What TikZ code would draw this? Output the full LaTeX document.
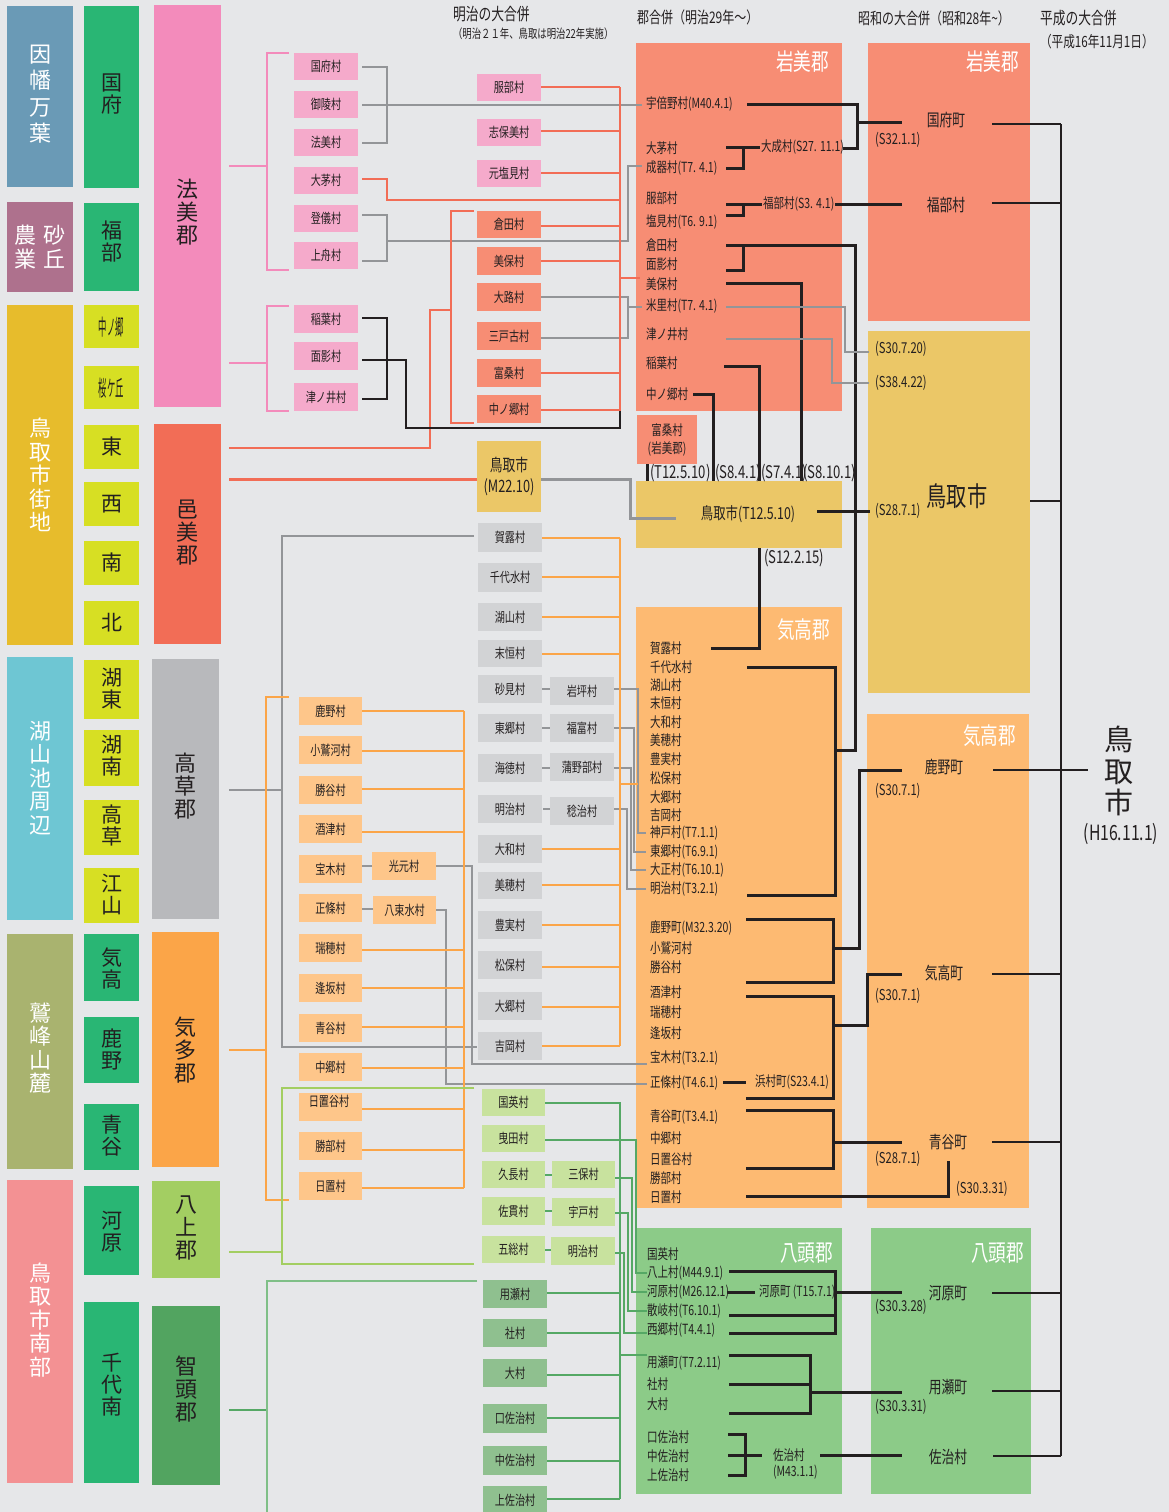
\documentclass[tikz,border=0pt]{standalone}
\usepackage{fontspec}
\usepackage{graphicx}
\newfontfamily\jp{Noto Sans CJK JP}
\newfontfamily\jpn[FakeStretch=0.75]{Noto Sans CJK JP}
\definecolor{bg}{HTML}{E6E7E9}
\definecolor{txt}{HTML}{231F20}
\definecolor{cblue}{HTML}{6A9AB6}
\definecolor{cmauve}{HTML}{AE718D}
\definecolor{cgold}{HTML}{E7BC2C}
\definecolor{ccyan}{HTML}{6EC6D3}
\definecolor{colive}{HTML}{A9B36F}
\definecolor{crose}{HTML}{F39193}
\definecolor{cgreen}{HTML}{29B674}
\definecolor{cyg}{HTML}{D7DF23}
\definecolor{gpink}{HTML}{F38BBB}
\definecolor{gred}{HTML}{F26D56}
\definecolor{ggray}{HTML}{B8B9BC}
\definecolor{gorange}{HTML}{FBA548}
\definecolor{glgreen}{HTML}{A3CE62}
\definecolor{gdgreen}{HTML}{52A460}
\definecolor{vpink}{HTML}{F5AACB}
\definecolor{vsalmon}{HTML}{F78D74}
\definecolor{vgold}{HTML}{EBC767}
\definecolor{vgray}{HTML}{D2D3D5}
\definecolor{vorange}{HTML}{FEC68A}
\definecolor{vlgreen}{HTML}{C8E29E}
\definecolor{vdgreen}{HTML}{8FC08F}
\definecolor{borange}{HTML}{FDBA72}
\definecolor{bgreen}{HTML}{8CCB88}
\definecolor{lgray}{HTML}{939598}
\definecolor{lgreen}{HTML}{55A865}
\definecolor{lgreenb}{HTML}{7FBF87}
\newcommand\fvil{\jpn\fontsize{13.5}{14}\selectfont}
\newcommand\fin{\jpn\fontsize{14}{15}\selectfont}
\newcommand\fdt{\jpn\fontsize{15}{16}\selectfont}
\newcommand\fdtb{\jpn\fontsize{17.5}{18}\selectfont}
\newcommand\frt{\jpn\fontsize{17}{18}\selectfont}
\newcommand\fttl{\jpn\fontsize{23.5}{24}\selectfont}
\newcommand\fhd{\jpn\fontsize{17}{18}\selectfont}
\newcommand\fsub{\jpn\fontsize{12.5}{13}\selectfont}
% box with text: style, x1, y1, x2, y2, name, text
\newcommand\BX[7]{\node[bx,#1,minimum width={#4pt-#2pt},minimum height={#5pt-#3pt}] (#6) at ({(#2+#4)/2},{(#3+#5)/2}) {#7};}
% box plus separate text: style, x1,y1,x2,y2,name,textstyle,cy,text
\newcommand\BT[9]{\node[bx,#1,minimum width={#4pt-#2pt},minimum height={#5pt-#3pt}] (#6) at ({(#2+#4)/2},{(#3+#5)/2}) {};\node[#7] (#6t) at ({(#2+#4)/2},#8) {#9};}
\begin{document}
\begin{tikzpicture}[x=1pt,y=-1pt,
  bx/.style={rectangle,inner sep=0pt,outer sep=0pt,align=center,text=txt},
  vil/.style={bx,font=\fvil,outer xsep=4pt},
  wt/.style={inner sep=0pt,align=center,text=white,font=\jp\fontsize{22}{23.5}\selectfont},
  dk2/.style={inner sep=0pt,align=center,text=txt,font=\jp\fontsize{21}{22}\selectfont},
  dk3/.style={inner sep=0pt,align=center,text=txt,font=\jp\fontsize{22}{23}\selectfont},
  lab/.style={inner sep=0pt,outer sep=0pt,anchor=west,text=txt,font=\fin},
  dtl/.style={inner sep=0pt,outer sep=0pt,anchor=west,text=txt,font=\fdt},
  rtl/.style={inner sep=0pt,outer sep=0pt,text=txt,font=\frt},
  ttl/.style={inner sep=0pt,outer sep=0pt,anchor=east,text=white,font=\fttl},
  hd/.style={inner sep=0pt,outer sep=0pt,anchor=west,text=txt,font=\fhd},
  lp/.style={draw=gpink,line width=1.5pt},
  lr/.style={draw=gred,line width=1.5pt},
  lo/.style={draw=gorange,line width=1.5pt},
  lg/.style={draw=lgray,line width=1.5pt},
  lk/.style={draw=txt,line width=3pt},
  lkr/.style={draw=txt,line width=2.5pt},
  lkt/.style={draw=txt,line width=1.6pt},
  lgr/.style={draw=lgreen,line width=1.5pt},
  llg/.style={draw=glgreen,line width=1.5pt},
]
\fill[bg] (0,0) rectangle (1169,1512);
\useasboundingbox (0,0) rectangle (1169,1512);

% ---------------- column 1 ----------------
\BT{fill=cblue}{7}{6}{73}{187}{r1}{wt,font=\jp\fontsize{22}{26.5}\selectfont}{94}{因\\幡\\万\\葉}
\BT{fill=cmauve}{7}{202}{73}{292}{r2}{wt}{247}{農\hspace{7pt}砂\\業\hspace{7pt}丘}
\BT{fill=cgold}{7}{305}{73}{645}{r3}{wt}{475}{鳥\\取\\市\\街\\地}
\BT{fill=ccyan}{7}{657}{73}{920}{r4}{wt}{778}{湖\\山\\池\\周\\辺}
\BT{fill=colive}{7}{934}{73}{1169}{r5}{wt}{1048}{鷲\\峰\\山\\麓}
\BT{fill=crose}{7}{1180}{73}{1483}{r6}{wt}{1320}{鳥\\取\\市\\南\\部}

% ---------------- column 2 ----------------
\BT{fill=cgreen}{84}{6}{139}{188}{s1}{dk2}{94}{国\\府}
\BT{fill=cgreen}{84}{203}{139}{291}{s2}{dk2}{242}{福\\部}
\BT{fill=cyg}{84}{305}{139}{348}{s3}{dk2,font=\jp\fontsize{22}{22}\selectfont}{327}{\scalebox{0.38}[1]{中ノ郷}}
\BT{fill=cyg}{84}{366}{139}{409}{s4}{dk2,font=\jp\fontsize{22}{22}\selectfont}{388}{\scalebox{0.38}[1]{桜ケ丘}}
\BT{fill=cyg}{84}{425}{139}{469}{s5}{dk2}{447}{東}
\BT{fill=cyg}{84}{482}{139}{526}{s6}{dk2}{504}{西}
\BT{fill=cyg}{84}{541}{139}{585}{s7}{dk2}{563}{南}
\BT{fill=cyg}{84}{601}{139}{645}{s8}{dk2}{623}{北}
\BT{fill=cyg}{84}{660}{139}{719}{s9}{dk2}{689}{湖\\東}
\BT{fill=cyg}{84}{730}{139}{786}{s10}{dk2}{756}{湖\\南}
\BT{fill=cyg}{84}{800}{139}{855}{s11}{dk2}{825}{高\\草}
\BT{fill=cyg}{84}{868}{139}{923}{s12}{dk2}{895}{江\\山}
\BT{fill=cgreen}{84}{934}{139}{1001}{s13}{dk2}{968}{気\\高}
\BT{fill=cgreen}{84}{1017}{139}{1083}{s14}{dk2}{1049}{鹿\\野}
\BT{fill=cgreen}{84}{1104}{139}{1170}{s15}{dk2}{1136}{青\\谷}
\BT{fill=cgreen}{84}{1186}{139}{1275}{s16}{dk2}{1232}{河\\原}
\BT{fill=cgreen}{84}{1302}{139}{1483}{s17}{dk2}{1385}{千\\代\\南}

% ---------------- column 3 ----------------
\BT{fill=gpink}{154}{5}{221}{407}{g1}{dk3}{212}{法\\美\\郡}
\BT{fill=gred}{154}{424}{221}{644}{g2}{dk3}{533}{邑\\美\\郡}
\BT{fill=ggray}{152}{659}{219}{919}{g3}{dk3}{786}{高\\草\\郡}
\BT{fill=gorange}{152}{932}{219}{1167}{g4}{dk3}{1050}{気\\多\\郡}
\BT{fill=glgreen}{152}{1181}{220}{1278}{g5}{dk3}{1228}{八\\上\\郡}
\BT{fill=gdgreen}{152}{1306}{220}{1485}{g6}{dk3}{1389}{智\\頭\\郡}

% ---------------- big boxes ----------------
\BX{fill=vsalmon}{636}{43}{842}{411}{iwB}{}
\BX{fill=vgold}{636}{481}{842}{548}{ttB}{}
\BX{fill=borange}{636}{607}{842}{1208}{kkB}{}
\BX{fill=bgreen}{636}{1228}{842}{1494}{ytB}{}
\BX{fill=vsalmon}{868}{43}{1030}{321}{iwR}{}
\BX{fill=vgold}{868}{331}{1030}{693}{ttR}{}
\BX{fill=borange}{867}{714}{1029}{1208}{kkR}{}
\BX{fill=bgreen}{871}{1228}{1031}{1494}{ytR}{}

% ---------------- lines ----------------
% 法美郡
\draw[lp] (229,166)--(267,166);
\draw[lp] (289,53)--(267,53)--(267,270)--(289,270);
\draw[lp] (229,363)--(267,363);
\draw[lp] (289,306)--(267,306)--(267,411)--(289,411);
% gray brackets
\draw[lg,line width=2pt] (362,67)--(387,67)--(387,143)--(362,143);
\draw[lg,line width=2pt] (362,105)--(642,105);
\draw[lg,line width=2pt] (362,215)--(387,215)--(387,261)--(362,261);
\draw[lg,line width=2pt] (387,241)--(628,241)--(628,166)--(642,166);
\draw[lg,line width=2pt] (541,297)--(628,297)--(628,338)--(541,338);
\draw[lg,line width=2pt] (628,307)--(642,307);
% red
\draw[lr] (362,179)--(387,179)--(387,200)--(620,200);
\draw[lr] (620,87)--(620,411);
\draw[lr] (541,87)--(620,87);
\draw[lr,line width=2.5pt] (541,131)--(620,131);
\draw[lr,line width=2.5pt] (541,173)--(620,173);
\draw[lr] (541,226)--(620,226);
\draw[lr] (541,261)--(620,261);
\draw[lr] (541,373)--(620,373);
\draw[lr] (541,410)--(620,410);
\draw[lr] (620,278)--(640,278);
\draw[lr] (229,448)--(430,448)--(430,310)--(451,310);
\draw[lr] (474,211)--(451,211)--(451,423)--(474,423);
\draw[lr,line width=3pt] (229,479)--(477,479);
% black bracket 稲葉
\draw[lkt] (362,318)--(387,318)--(387,399)--(362,399);
\draw[lkt] (362,360)--(406,360)--(406,428)--(620,428)--(620,411);
% gray thick 鳥取市
\draw[lg,line width=3pt] (541,479)--(630,479)--(630,518)--(676,518);
% 岩美郡 black
\draw[lk] (747,104)--(857,104)--(857,148)--(843,148);
\draw[lk] (857,122)--(902,122);
\draw[lk] (726,147)--(760,147);
\draw[lk] (743,147)--(743,168)--(726,168);
\draw[lk] (726,204)--(762,204);
\draw[lk] (743,204)--(743,215)--(726,215);
\draw[lk] (835,204)--(902,204);
\draw[lk] (726,245)--(855,245)--(855,750)--(835,750);
\draw[lk] (743,245)--(743,270)--(726,270);
\draw[lk] (726,283)--(801,283)--(801,481);
\draw[lk] (724,366)--(759,366)--(759,481);
\draw[lk] (693,394)--(713,394)--(713,481);
\draw[lk] (647,464)--(647,481);
\draw[lk] (817,511)--(870,511);
\draw[lk] (759,548)--(759,648)--(711,648);
\draw[lg,line width=2.5pt] (726,307)--(845,307)--(845,352)--(869,352);
\draw[lg,line width=2.5pt] (726,339)--(832,339)--(832,383)--(869,383);
% 気高郡 black
\draw[lk] (747,667)--(835,667)--(835,895)--(747,895);
\draw[lk] (746,919)--(833,919)--(833,982)--(746,982);
\draw[lk] (833,948)--(859,948)--(859,770)--(902,770);
\draw[lk] (746,996)--(833,996)--(833,1098)--(746,1098);
\draw[lk] (833,1025)--(867,1025)--(867,974)--(902,974);
\draw[lk] (723,1082)--(746,1082);
\draw[lk] (746,1110)--(833,1110)--(833,1168)--(746,1168);
\draw[lk] (833,1142)--(902,1142);
\draw[lk] (746,1196)--(948,1196)--(948,1161);
% 八頭郡 black
\draw[lk] (729,1271)--(835,1271)--(835,1333)--(729,1333);
\draw[lk] (729,1315)--(835,1315);
\draw[lk] (835,1292)--(902,1292);
\draw[lk] (727,1292)--(755,1292);
\draw[lk] (729,1355)--(810,1355)--(810,1413)--(729,1413);
\draw[lk] (729,1384)--(810,1384);
\draw[lk] (810,1392)--(902,1392);
\draw[lk] (728,1434)--(745,1434)--(745,1475)--(728,1475);
\draw[lk] (728,1455)--(762,1455);
\draw[lk] (820,1455)--(902,1455);
% right side
\draw[lkr] (1061,124)--(1061,1456);
\draw[lkr] (992,124)--(1061,124);
\draw[lkr] (992,203)--(1061,203);
\draw[lkr] (1030,501)--(1061,501);
\draw[lkr] (993,770)--(1088,770);
\draw[lkr] (992,974)--(1061,974);
\draw[lkr] (992,1142)--(1061,1142);
\draw[lkr] (992,1293)--(1061,1293);
\draw[lkr] (992,1391)--(1061,1391);
\draw[lkr] (993,1456)--(1061,1456);
% 高草郡 gray
\draw[lg] (229,790)--(282,790);
\draw[lg] (474,536)--(282,536)--(282,1047)--(477,1047);
\draw[lg] (542,689)--(550,689);
\draw[lg] (542,728)--(550,728);
\draw[lg] (542,768)--(550,768);
\draw[lg] (543,809)--(550,809);
\draw[lg] (613,689)--(638,689)--(638,833)--(646,833);
\draw[lg] (614,728)--(634,728)--(634,852)--(646,852);
\draw[lg] (614,768)--(631,768)--(631,870)--(646,870);
\draw[lg] (614,809)--(627,809)--(627,889)--(646,889);
\draw[lg] (362,866)--(372,866);
\draw[lg] (362,909)--(373,909);
\draw[lg] (436,866)--(472,866)--(472,1064)--(647,1064);
\draw[lg] (436,910)--(446,910)--(446,1084)--(647,1084);
% orange
\foreach \yy in {538,577,617,654,849,885,925,967,1007,1046} {\draw[lo] (542,\yy)--(620,\yy);}
\draw[lo] (620,538)--(620,1046);
\draw[lo] (620,784)--(638,784);
\draw[lo] (229,1050)--(266,1050);
\draw[lo] (289,697)--(266,697)--(266,1200)--(289,1200);
\foreach \yy in {711,751,789,832,950,988,1027,1068,1109,1150,1188} {\draw[lo] (362,\yy)--(464,\yy);}
\draw[lo] (464,711)--(464,1188);
% 八上 light green
\draw[llg,line width=2.5pt] (229,1252)--(282,1252);
\draw[llg] (474,1088)--(282,1088)--(282,1264)--(474,1264);
% green
\draw[lgr] (545,1175)--(552,1175);
\draw[lgr] (545,1211)--(552,1211);
\draw[lgr] (545,1250)--(551,1250);
\draw[lgr] (545,1103)--(620,1103)--(620,1499);
\draw[lgr] (545,1140)--(636,1140)--(636,1273)--(647,1273);
\draw[lgr] (615,1178)--(632,1178)--(632,1292)--(647,1292);
\draw[lgr] (615,1213)--(628,1213)--(628,1311)--(647,1311);
\draw[lgr] (615,1253)--(624,1253)--(624,1333)--(647,1333);
\draw[lgr,line width=2.5pt] (547,1293)--(620,1293);
\foreach \yy in {1333,1375,1418,1461,1499} {\draw[lgr] (547,\yy)--(620,\yy);}
\draw[lgr] (620,1355)--(647,1355);
\draw[lgr,line width=2pt] (229,1410)--(267,1410);
\draw[draw=lgreenb,line width=1.5pt] (477,1281)--(267,1281)--(267,1512);

% ---------------- village boxes ----------------
\BX{vil,fill=vpink}{294}{53}{358}{80}{kokufu}{国府村}
\BX{vil,fill=vpink}{294}{91}{358}{118}{goryo}{御陵村}
\BX{vil,fill=vpink}{294}{129}{358}{156}{horyo}{法美村}
\BX{vil,fill=vpink}{294}{167}{358}{194}{ochi}{大茅村}
\BX{vil,fill=vpink}{294}{205}{358}{232}{togi}{登儀村}
\BX{vil,fill=vpink}{294}{242}{358}{269}{kamifune}{上舟村}
\BX{vil,fill=vpink}{294}{305}{358}{333}{inaba}{稲葉村}
\BX{vil,fill=vpink}{294}{342}{358}{370}{omokage}{面影村}
\BX{vil,fill=vpink}{294}{383}{358}{411}{tsunoi}{津ノ井村}

\BX{vil,fill=vpink}{477}{74}{541}{101}{hattori}{服部村}
\BX{vil,fill=vpink}{477}{119}{541}{146}{shihomi}{志保美村}
\BX{vil,fill=vpink}{477}{160}{541}{187}{motoshiomi}{元塩見村}
\BX{vil,fill=vsalmon}{477}{211}{541}{238}{kurata}{倉田村}
\BX{vil,fill=vsalmon}{477}{247}{541}{275}{miho}{美保村}
\BX{vil,fill=vsalmon}{477}{283}{541}{311}{oji}{大路村}
\BX{vil,fill=vsalmon}{477}{322}{541}{350}{mitoko}{三戸古村}
\BX{vil,fill=vsalmon}{477}{359}{541}{387}{fuso}{富桑村}
\BX{vil,fill=vsalmon}{477}{395}{541}{423}{nakanogo}{中ノ郷村}
\BX{vil,fill=vgold,font=\jpn\fontsize{17}{21}\selectfont}{477}{441}{541}{512}{tottoriM}{鳥取市\\(M22.10)}
\BX{vil,fill=vsalmon,font=\jpn\fontsize{14}{18}\selectfont}{637}{415}{697}{464}{fuso2}{富桑村\\(岩美郡)}

\BX{vil,fill=vgray}{478}{523}{542}{552}{karo}{賀露村}
\BX{vil,fill=vgray}{478}{563}{542}{592}{chiyomi}{千代水村}
\BX{vil,fill=vgray}{478}{603}{542}{631}{koyama}{湖山村}
\BX{vil,fill=vgray}{478}{640}{542}{667}{suetsune}{末恒村}
\BX{vil,fill=vgray}{478}{675}{542}{703}{sunami}{砂見村}
\BX{vil,fill=vgray}{478}{714}{542}{742}{togo}{東郷村}
\BX{vil,fill=vgray}{478}{754}{542}{782}{kaitoku}{海徳村}
\BX{vil,fill=vgray}{478}{795}{542}{823}{meijiA}{明治村}
\BX{vil,fill=vgray}{478}{835}{542}{863}{yamato}{大和村}
\BX{vil,fill=vgray}{478}{872}{542}{899}{mihoT}{美穂村}
\BX{vil,fill=vgray}{478}{911}{542}{939}{toyomi}{豊実村}
\BX{vil,fill=vgray}{478}{951}{542}{979}{matsuho}{松保村}
\BX{vil,fill=vgray}{478}{992}{542}{1020}{ogo}{大郷村}
\BX{vil,fill=vgray}{478}{1032}{542}{1060}{yoshioka}{吉岡村}
\BX{vil,fill=vgray}{550}{677}{614}{705}{iwatsubo}{岩坪村}
\BX{vil,fill=vgray}{550}{714}{614}{742}{fukutomi}{福富村}
\BX{vil,fill=vgray}{550}{753}{614}{781}{kamanobe}{蒲野部村}
\BX{vil,fill=vgray}{550}{797}{614}{825}{minoji}{稔治村}

\BX{vil,fill=vorange}{299}{697}{362}{725}{shikano}{鹿野村}
\BX{vil,fill=vorange}{299}{736}{362}{764}{owashi}{小鷲河村}
\BX{vil,fill=vorange}{299}{776}{362}{804}{katsuya}{勝谷村}
\BX{vil,fill=vorange}{299}{815}{362}{843}{sakenotsu}{酒津村}
\BX{vil,fill=vorange}{299}{855}{362}{883}{hoki}{宝木村}
\BX{vil,fill=vorange}{299}{894}{362}{922}{shojo}{正條村}
\BX{vil,fill=vorange}{299}{934}{362}{962}{mizuho}{瑞穂村}
\BX{vil,fill=vorange}{299}{974}{362}{1002}{osaka}{逢坂村}
\BX{vil,fill=vorange}{299}{1014}{362}{1042}{aoya}{青谷村}
\BX{vil,fill=vorange}{299}{1053}{362}{1081}{nakago}{中郷村}
\BX{vil,fill=vorange}{299}{1093}{362}{1121}{hiokidani}{}
\node[inner sep=0pt,font=\fvil,text=txt] (hiokidanit) at (329,1101) {日置谷村};
\BX{vil,fill=vorange}{299}{1132}{362}{1160}{katsube}{勝部村}
\BX{vil,fill=vorange}{299}{1172}{362}{1200}{hioki}{日置村}
\BX{vil,fill=vorange}{372}{852}{436}{880}{mitsumoto}{光元村}
\BX{vil,fill=vorange}{373}{896}{436}{924}{yatsukami}{八束水村}

\BX{vil,fill=vlgreen}{482}{1089}{545}{1116}{kokuei}{国英村}
\BX{vil,fill=vlgreen}{482}{1125}{545}{1152}{hikita}{曳田村}
\BX{vil,fill=vlgreen}{482}{1161}{545}{1188}{kunaga}{久長村}
\BX{vil,fill=vlgreen}{482}{1197}{545}{1225}{sanuki}{佐貫村}
\BX{vil,fill=vlgreen}{482}{1236}{545}{1263}{fusa}{五総村}
\BX{vil,fill=vlgreen}{552}{1161}{615}{1188}{mihoY}{三保村}
\BX{vil,fill=vlgreen}{552}{1198}{615}{1226}{udo}{宇戸村}
\BX{vil,fill=vlgreen}{551}{1237}{615}{1265}{meijiY}{明治村}

\BX{vil,fill=vdgreen}{483}{1280}{547}{1308}{mochigase}{用瀬村}
\BX{vil,fill=vdgreen}{483}{1319}{547}{1347}{yashiro}{社村}
\BX{vil,fill=vdgreen}{483}{1359}{547}{1387}{omura}{大村}
\BX{vil,fill=vdgreen}{483}{1404}{547}{1433}{kuchisaji}{口佐治村}
\BX{vil,fill=vdgreen}{483}{1446}{547}{1475}{nakasaji}{中佐治村}
\BX{vil,fill=vdgreen}{483}{1486}{547}{1514}{kamisaji}{上佐治村}

% ---------------- headers ----------------
\node[hd] (h1) at (453,14) {明治の大合併};
\node[hd,font=\fsub] (h1b) at (453,34) {（明治２１年、鳥取は明治22年実施）};
\node[hd,font=\jpn\fontsize{16}{17}\selectfont] (h2) at (637,17) {郡合併（明治29年～）};
\node[hd,font=\jpn\fontsize{16}{17}\selectfont] (h3) at (858,18) {昭和の大合併（昭和28年\textasciitilde）};
\node[hd] (h4) at (1040,18) {平成の大合併};
\node[hd,font=\jpn\fontsize{15.5}{16}\selectfont] (h4b) at (1040,42) {（平成16年11月1日）};

% ---------------- 岩美郡 labels ----------------
\node[ttl] (iwT) at (829,62) {岩美郡};
\node[lab] (iw1) at (646,104) {宇倍野村(M40.4.1)};
\node[lab] (iw2) at (646,148) {大茅村};
\node[lab] (iw3) at (646,168) {成器村(T7. 4.1)};
\node[lab] (iw4) at (646,198) {服部村};
\node[lab] (iw5) at (646,222) {塩見村(T6. 9.1)};
\node[lab] (iw6) at (646,245) {倉田村};
\node[lab] (iw7) at (646,264) {面影村};
\node[lab] (iw8) at (646,284) {美保村};
\node[lab] (iw9) at (646,306) {米里村(T7. 4.1)};
\node[lab] (iw10) at (646,334) {津ノ井村};
\node[lab] (iw11) at (646,363) {稲葉村};
\node[lab] (iw12) at (646,394) {中ノ郷村};
\node[lab] (taisei) at (761,147) {大成村(S27. 11.1)};
\node[lab] (fukubeS3) at (763,204) {福部村(S3. 4.1)};
\node[dtl,font=\fdtb] (dA) at (650,473) {(T12.5.10)};
\node[dtl,font=\fdtb] (dB) at (715,473) {(S8.4.1)};
\node[dtl,font=\fdtb] (dC) at (761,473) {(S7.4.1)};
\node[dtl,font=\fdtb] (dD) at (803,473) {(S8.10.1)};
\node[rtl,font=\jpn\fontsize{16.5}{17}\selectfont] (tt12) at (748,514) {鳥取市(T12.5.10)};
\node[dtl,font=\fdtb] (dE) at (764,558) {(S12.2.15)};

% ---------------- 気高郡 labels ----------------
\node[ttl] (kkT) at (830,630) {気高郡};
\node[lab] (k1) at (650,648) {賀露村};
\node[lab] (k2) at (650,667) {千代水村};
\node[lab] (k3) at (650,685) {湖山村};
\node[lab] (k4) at (650,703) {末恒村};
\node[lab] (k5) at (650,722) {大和村};
\node[lab] (k6) at (650,740) {美穂村};
\node[lab] (k7) at (650,759) {豊実村};
\node[lab] (k8) at (650,778) {松保村};
\node[lab] (k9) at (650,797) {大郷村};
\node[lab] (k10) at (650,815) {吉岡村};
\node[lab] (k11) at (650,833) {神戸村(T7.1.1)};
\node[lab] (k12) at (650,852) {東郷村(T6.9.1)};
\node[lab] (k13) at (650,870) {大正村(T6.10.1)};
\node[lab] (k14) at (650,889) {明治村(T3.2.1)};
\node[lab] (k15) at (650,928) {鹿野町(M32.3.20)};
\node[lab] (k16) at (650,948) {小鷲河村};
\node[lab] (k17) at (650,967) {勝谷村};
\node[lab] (k18) at (650,992) {酒津村};
\node[lab] (k19) at (650,1012) {瑞穂村};
\node[lab] (k20) at (650,1033) {逢坂村};
\node[lab] (k21) at (650,1058) {宝木村(T3.2.1)};
\node[lab] (k22) at (650,1083) {正條村(T4.6.1)};
\node[lab] (k23) at (755,1082) {浜村町(S23.4.1)};
\node[lab] (k24) at (650,1117) {青谷町(T3.4.1)};
\node[lab] (k25) at (650,1138) {中郷村};
\node[lab] (k26) at (650,1159) {日置谷村};
\node[lab] (k27) at (650,1178) {勝部村};
\node[lab] (k28) at (650,1197) {日置村};

% ---------------- 八頭郡 labels ----------------
\node[ttl] (ytT) at (833,1253) {八頭郡};
\node[lab] (y1) at (647,1254) {国英村};
\node[lab] (y2) at (647,1273) {八上村(M44.9.1)};
\node[lab] (y3) at (647,1292) {河原村(M26.12.1)};
\node[lab] (y4) at (647,1311) {散岐村(T6.10.1)};
\node[lab] (y5) at (647,1330) {西郷村(T4.4.1)};
\node[lab] (y6) at (647,1363) {用瀬町(T7.2.11)};
\node[lab] (y7) at (647,1384) {社村};
\node[lab] (y8) at (647,1404) {大村};
\node[lab] (y9) at (647,1437) {口佐治村};
\node[lab] (y10) at (647,1456) {中佐治村};
\node[lab] (y11) at (647,1475) {上佐治村};
\node[lab] (y12) at (759,1292) {河原町\,(T15.7.1)};
\node[lab] (y13) at (773,1455) {佐治村};
\node[lab] (y14) at (773,1472) {(M43.1.1)};

% ---------------- 昭和 labels ----------------
\node[ttl] (iwRT) at (1019,62) {岩美郡};
\node[rtl] (kokufuT) at (946,120) {国府町};
\node[dtl] (e1) at (875,140) {(S32.1.1)};
\node[rtl] (fukubeT) at (946,205) {福部村};
\node[dtl] (e2) at (875,349) {(S30.7.20)};
\node[dtl] (e3) at (875,383) {(S38.4.22)};
\node[rtl,font=\jpn\fontsize{27}{28}\selectfont] (tottoriS) at (957,496) {鳥取市};
\node[dtl] (e4) at (875,511) {(S28.7.1)};
\node[ttl] (kkRT) at (1016,736) {気高郡};
\node[rtl] (shikanoT) at (944,767) {鹿野町};
\node[dtl] (e5) at (875,791) {(S30.7.1)};
\node[rtl] (ketakaT) at (944,973) {気高町};
\node[dtl] (e6) at (875,996) {(S30.7.1)};
\node[rtl] (aoyaT) at (948,1142) {青谷町};
\node[dtl] (e7) at (875,1159) {(S28.7.1)};
\node[dtl] (e8) at (956,1189) {(S30.3.31)};
\node[ttl] (ytRT) at (1024,1253) {八頭郡};
\node[rtl] (kawaharaT) at (948,1293) {河原町};
\node[dtl] (e9) at (875,1307) {(S30.3.28)};
\node[rtl] (mochigaseT) at (948,1387) {用瀬町};
\node[dtl] (e10) at (875,1407) {(S30.3.31)};
\node[rtl] (sajiT) at (948,1457) {佐治村};

% ---------------- 平成 ----------------
\node[inner sep=0pt,align=center,text=txt,font=\jp\fontsize{29}{31.5}\selectfont] (tottoriH) at (1119,771) {鳥\\取\\市};
\node[inner sep=0pt,text=txt,font=\jpn\fontsize{21}{22}\selectfont] (tottoriHd) at (1121,834) {(H16.11.1)};
\end{tikzpicture}
\end{document}
